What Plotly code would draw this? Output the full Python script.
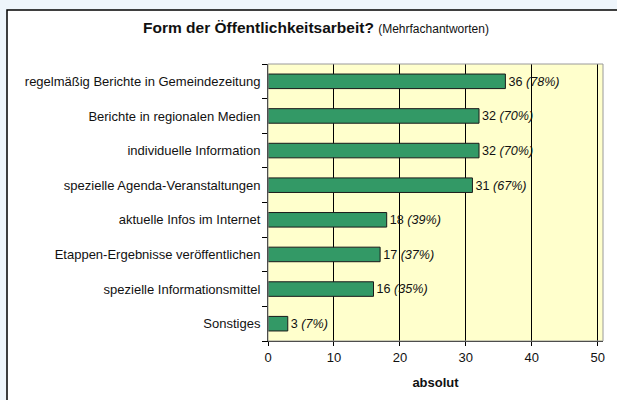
import plotly.graph_objects as go

categories = [
    "regelmäßig Berichte in Gemeindezeitung",
    "Berichte in regionalen Medien",
    "individuelle Information",
    "spezielle Agenda-Veranstaltungen",
    "aktuelle Infos im Internet",
    "Etappen-Ergebnisse veröffentlichen",
    "spezielle Informationsmittel",
    "Sonstiges",
]
values = [36, 32, 32, 31, 18, 17, 16, 3]
percents = [78, 70, 70, 67, 39, 37, 35, 7]
x_ticks = [0, 10, 20, 30, 40, 50]

labels = [f"{v} <i>({p}%)</i>" for v, p in zip(values, percents)]

W, H = 617, 400
L, R, T, B = 268, 14, 64, 59
pw, ph = W - L - R, H - T - B

def px_x(x):
    return (x - L) / pw

def px_y(y):
    return 1 - (y - T) / ph

fig = go.Figure()
fig.add_trace(go.Bar(
    y=categories[::-1],
    x=values[::-1],
    orientation="h",
    marker=dict(color="#339966", line=dict(color="#1a1a1a", width=1)),
    width=0.42,
    text=labels[::-1],
    textposition="outside",
    textfont=dict(family="Liberation Sans, Arial", size=13, color="#111111"),
    cliponaxis=False,
))

fig.update_layout(
    width=W, height=H,
    paper_bgcolor="white",
    plot_bgcolor="#FFFFCC",
    margin=dict(l=L, r=R, t=T, b=B),
    showlegend=False,
    font=dict(family="Liberation Sans, Arial", size=13, color="#111111"),
    title=dict(
        text="<b>Form der Öffentlichkeitsarbeit?</b> <span style='font-size:12px'>(Mehrfachantworten)</span>",
        x=316/W, xanchor="center", y=1 - 28/H, yanchor="middle",
        font=dict(family="Liberation Sans, Arial", size=15.5, color="#111111"),
    ),
    shapes=[
        dict(type="rect", xref="paper", yref="paper", x0=px_x(0), x1=px_x(7), y0=px_y(H), y1=px_y(0),
             line=dict(width=0), fillcolor="#EEF5FB", layer="below"),
        dict(type="rect", xref="paper", yref="paper", x0=px_x(0), x1=px_x(W), y0=px_y(10), y1=px_y(0),
             line=dict(width=0), fillcolor="#EEF5FB", layer="below"),
        dict(type="rect", xref="paper", yref="paper", x0=px_x(7), x1=px_x(W + 5), y0=px_y(H + 5), y1=px_y(10),
             line=dict(color="#000000", width=1.5), fillcolor="rgba(0,0,0,0)", layer="above"),
        dict(type="rect", xref="paper", yref="paper", x0=0, x1=1, y0=0, y1=1,
             line=dict(color="#9a9a9a", width=1), fillcolor="rgba(0,0,0,0)", layer="above"),
    ],
)

fig.update_xaxes(
    range=[0, 50.8],
    tickvals=x_ticks,
    showgrid=True, gridcolor="#000000", gridwidth=1,
    showline=True, linecolor="#000000", linewidth=1,
    ticks="outside", ticklen=4, tickcolor="#000000",
    zeroline=False,
    automargin=False,
    title=dict(text="<b>absolut</b>", font=dict(size=13, color="#111111"), standoff=14),
    tickfont=dict(size=13, color="#111111"),
    fixedrange=True,
)
fig.update_yaxes(
    showline=True, linecolor="#000000", linewidth=1,
    ticks="outside", ticklen=5, tickcolor="#000000",
    tickson="boundaries",
    showgrid=False,
    automargin=False,
    ticklabelstandoff=4,
    tickfont=dict(size=13, color="#111111"),
    fixedrange=True,
)

fig.write_html(
    "out.html",
    config={"displayModeBar": False},
    post_script="document.body.style.margin='0';document.body.style.overflow='hidden';",
)
